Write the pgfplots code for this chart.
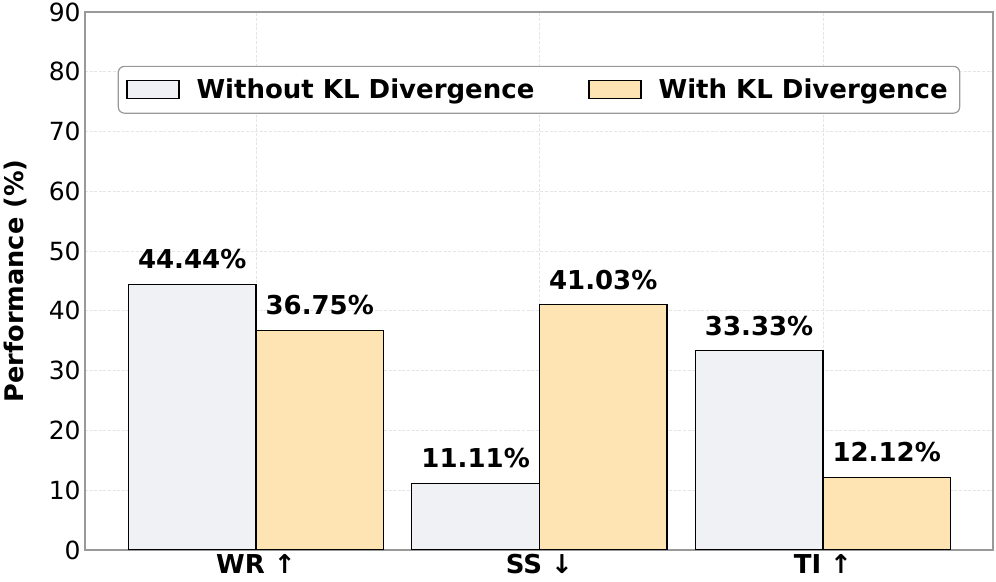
\documentclass[border=0pt]{standalone}
\usepackage{pgfplots}
\pgfplotsset{compat=1.18}
\usepackage{fontspec}
\setmainfont{DejaVu Sans}
\definecolor{barA}{HTML}{F0F1F4}
\definecolor{barB}{HTML}{FFE4B3}
\definecolor{frame}{HTML}{999999}
\begin{document}
\begin{tikzpicture}
\begin{axis}[
  name=ax,
  scale only axis,
  width=454pt, height=269pt,
  xmin=-0.603, xmax=2.6,
  ymin=0, ymax=90,
  ytick={0,10,...,90},
  xtick={0,1,2},
  xticklabels={WR ↑,SS ↓,TI ↑},
  x tick label style={font=\bfseries\fontsize{13}{15}\selectfont, inner sep=1pt, yshift=-1pt},
  y tick label style={font=\fontsize{12.5}{15}\selectfont, inner sep=2pt},
  /pgf/number format/assume math mode=true,
  major tick length=0pt,
  axis line style={frame, line width=0.6pt},
  grid=major,
  major grid style={black!10, line width=0.4pt, dash pattern=on 1.5pt off 0.8pt},
  ylabel={Performance (\%)},
  ylabel style={font=\bfseries\fontsize{12.8}{15}\selectfont, yshift=5.5pt},
  ybar,
  bar width=0.45,
  nodes near coords={\pgfmathprintnumber[fixed,precision=2,fixed zerofill]{\pgfplotspointmeta}\%},
  nodes near coords style={font=\bfseries\fontsize{13}{15}\selectfont, anchor=south, yshift=4pt, /pgf/number format/assume math mode=true},
  legend columns=2,
  legend style={at={(0.5,0.9)}, anchor=north, draw=frame, rounded corners=3pt, line width=0.6pt,
    font=\bfseries\fontsize{13}{15}\selectfont, inner xsep=4pt, inner ysep=4pt,
    /tikz/every even column/.append style={column sep=25pt}},
  legend image code/.code={\draw[#1, sharp corners] (0pt,-4.5pt) rectangle (26pt,4.5pt);},
]
\addplot[fill=barA, draw=black, line width=0.6pt, bar shift=-0.225] coordinates {(0,44.44) (1,11.11) (2,33.33)};
\addlegendentry{\hspace{6.5pt}Without KL Divergence}
\addplot[fill=barB, draw=black, line width=0.6pt, bar shift=0.225] coordinates {(0,36.75) (1,41.03) (2,12.12)};
\addlegendentry{\hspace{6.5pt}With KL Divergence}
\end{axis}
\pgfresetboundingbox
\path[use as bounding box] ([shift={(-42.5pt,-16pt)}]ax.south west) rectangle ([shift={(1.5pt,6pt)}]ax.north east);
\end{tikzpicture}
\end{document}
